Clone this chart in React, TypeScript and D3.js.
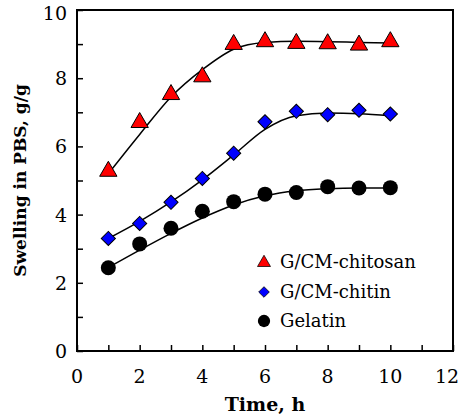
import React, { useEffect, useRef } from "react";
import * as d3 from "d3";

// measured swelling (g/g) vs time (h)
const hours = [1, 2, 3, 4, 5, 6, 7, 8, 9, 10];
const chitosan = [5.3, 6.73, 7.55, 8.07, 9.02, 9.1, 9.05, 9.04, 9.0, 9.1];
const chitin = [3.3, 3.74, 4.36, 5.06, 5.8, 6.72, 7.03, 6.93, 7.06, 6.95];
const gelatin = [2.44, 3.14, 3.6, 4.1, 4.38, 4.6, 4.65, 4.82, 4.78, 4.79];

// trend lines drawn through the points
const chitosanFit = [5.2, 6.35, 7.45, 8.25, 8.85, 9.05, 9.08, 9.07, 9.05, 9.03];
const chitinFit = [3.3, 3.8, 4.37, 5.02, 5.75, 6.5, 6.9, 6.98, 6.96, 6.9];
const gelatinFit = [2.45, 2.96, 3.45, 3.9, 4.28, 4.55, 4.7, 4.76, 4.78, 4.78];

const xTicks = [0, 2, 4, 6, 8, 10, 12];
const yTicks = [0, 2, 4, 6, 8, 10];
const legendLabels = ["G/CM-chitosan", "G/CM-chitin", "Gelatin"];

const App = () => {
  const ref = useRef<SVGSVGElement>(null);

  useEffect(() => {
    const svg = d3.select(ref.current);
    svg.selectAll("*").remove();

    const width = 461;
    const height = 418;
    const margin = { top: 10, right: 8, bottom: 67, left: 77 };
    const font = "DejaVu Serif";

    const x = d3.scaleLinear().domain([0, 12]).range([margin.left, width - margin.right]);
    const y = d3.scaleLinear().domain([0, 10]).range([height - margin.bottom, margin.top]);

    // frame
    svg
      .append("rect")
      .attr("x", x(0))
      .attr("y", y(10))
      .attr("width", x(12) - x(0))
      .attr("height", y(0) - y(10))
      .attr("fill", "none")
      .attr("stroke", "#000")
      .attr("stroke-width", 2);

    // ticks (inward)
    const xAxis = svg
      .append("g")
      .attr("transform", `translate(0, ${y(0)})`)
      .call(d3.axisBottom(x).tickValues(d3.range(0, 13, 1)).tickSize(-6).tickFormat(() => ""));
    xAxis.select(".domain").remove();
    xAxis.selectAll("line").attr("stroke-width", 1.5);

    const yAxis = svg
      .append("g")
      .attr("transform", `translate(${x(0)}, 0)`)
      .call(d3.axisLeft(y).tickValues(d3.range(0, 11, 1)).tickSize(-6).tickFormat(() => ""));
    yAxis.select(".domain").remove();
    yAxis.selectAll("line").attr("stroke-width", 1.5);

    // tick labels
    svg
      .selectAll(".xl")
      .data(xTicks)
      .enter()
      .append("text")
      .attr("x", (d) => Math.min(x(d), width - 14))
      .attr("y", y(0) + 32)
      .attr("text-anchor", "middle")
      .style("font-family", font)
      .attr("font-size", 19)
      .text((d) => d);

    svg
      .selectAll(".yl")
      .data(yTicks)
      .enter()
      .append("text")
      .attr("x", x(0) - 10)
      .attr("y", (d) => Math.max(y(d) + 7, 20))
      .attr("text-anchor", "end")
      .style("font-family", font)
      .attr("font-size", 19)
      .text((d) => d);

    // axis titles
    svg
      .append("text")
      .attr("x", (x(0) + x(12)) / 2)
      .attr("y", 411)
      .attr("text-anchor", "middle")
      .style("font-family", font)
      .attr("font-weight", "bold")
      .attr("font-size", 19)
      .text("Time, h");

    svg
      .append("text")
      .attr("transform", `translate(26, ${(y(0) + y(10)) / 2}) rotate(-90)`)
      .attr("text-anchor", "middle")
      .style("font-family", font)
      .attr("font-weight", "bold")
      .attr("font-size", 17)
      .text("Swelling in PBS, g/g");

    // fit lines
    const line = d3
      .line<number>()
      .x((_, i) => x(hours[i]))
      .y((d) => y(d))
      .curve(d3.curveMonotoneX);

    [chitosanFit, chitinFit, gelatinFit].forEach((fit) => {
      svg
        .append("path")
        .datum(fit)
        .attr("fill", "none")
        .attr("stroke", "#000")
        .attr("stroke-width", 1.5)
        .attr("d", line);
    });

    const tri = d3.symbol().type(d3.symbolTriangle).size(130)();
    const dia = d3.symbol().type(d3.symbolSquare).size(100)();

    const drawMarker = (g: any, kind: number) => {
      if (kind === 0) {
        g.append("path").attr("d", tri).attr("transform", "translate(0,1)").attr("fill", "#ff0000").attr("stroke", "#000").attr("stroke-width", 1);
      } else if (kind === 1) {
        g.append("path").attr("d", dia).attr("transform", "rotate(45)").attr("fill", "#0000ff").attr("stroke", "#000").attr("stroke-width", 1);
      } else {
        g.append("circle").attr("r", 7.5).attr("fill", "#000");
      }
    };

    [chitosan, chitin, gelatin].forEach((vals, k) => {
      vals.forEach((v, i) => {
        const g = svg.append("g").attr("transform", `translate(${x(hours[i])}, ${y(v)})`);
        drawMarker(g, k);
      });
    });

    // legend
    const legendY = [262, 292, 321];
    legendLabels.forEach((label, k) => {
      const g = svg.append("g").attr("transform", `translate(264, ${legendY[k]})`);
      const m = g.append("g").attr("transform", `scale(${k === 2 ? 0.82 : 0.75})`);
      drawMarker(m, k);
      g.append("text")
        .attr("x", 16)
        .attr("y", 6)
        .style("font-family", font)
        .attr("font-size", 18)
        .text(label);
    });
  }, []);

  return <svg ref={ref} width={461} height={418} style={{ position: "absolute", left: 0, top: 0 }} />;
};

export default App;
